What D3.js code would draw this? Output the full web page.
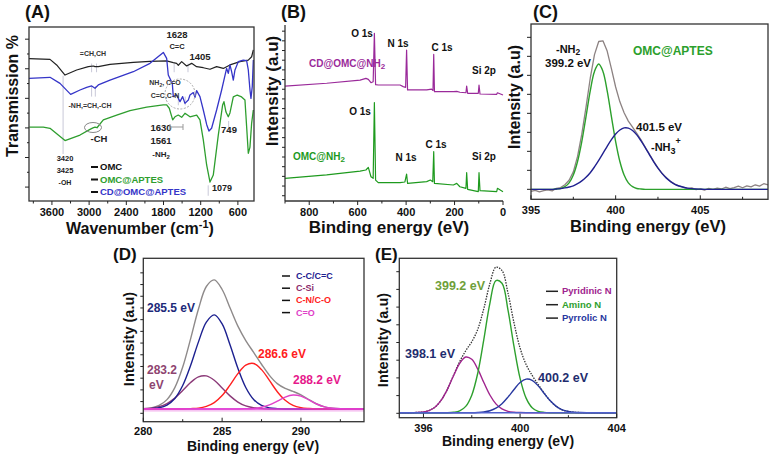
<!DOCTYPE html>
<html><head><meta charset="utf-8">
<script src="https://cdn.jsdelivr.net/npm/d3@7"></script>
<style>
body{margin:0;background:#fff;}
svg{display:block;font-family:"Liberation Sans",Arial,sans-serif;font-weight:bold;}
</style></head><body>
<svg id="c" width="780" height="457"></svg>
<script>
// ---------------- DATA ----------------
// (A) FTIR, [wavenumber cm-1, transmission a.u.]
const ftirTicks = [3600, 3000, 2400, 1800, 1200, 600];
const ftirMinorTicks = [3900, 3300, 2700, 2100, 1500, 900];
const omcFTIR = [[3970,81.8],[3631,81.4],[3524,78.2],[3389,72.4],[3201,75.3],[3013,77.2],[2932,77.6],[2905,77.2],[2852,77.2],[2663,78.5],[2287,79.7],[2018,80.3],[1749,80.5],[1642,79.5],[1588,79.1],[1561,78.0],[1507,80.1],[1427,77.6],[1346,79.1],[1266,77.2],[1158,76.6],[1050,75.7],[943,77.2],[835,76.2],[728,78.2],[567,80.1],[432,81.0],[378,82.9],[351,86.8]];
const cdOmcAptesFTIR = [[3970,70.5],[3631,71.1],[3470,67.6],[3298,61.3],[3147,63.8],[3040,65.3],[2959,66.1],[2905,64.8],[2852,66.7],[2663,69.5],[2287,74.3],[2018,79.1],[1803,85.4],[1749,82.0],[1723,72.4],[1658,67.6],[1642,60.0],[1588,60.9],[1534,57.1],[1491,60.0],[1454,56.1],[1400,58.0],[1373,60.9],[1319,62.3],[1292,59.6],[1266,63.4],[1212,60.0],[1158,52.3],[1104,44.0],[1067,40.2],[1024,41.8],[943,52.3],[862,63.8],[782,76.2],[755,73.4],[728,78.2],[701,74.3],[674,69.5],[647,75.3],[593,80.1],[513,81.0],[459,80.7],[432,75.3],[405,63.8],[389,59.0],[368,65.7],[351,81.0]];
const omcAptesFTIR = [[3965,42.4],[3739,42.4],[3631,41.8],[3389,34.7],[3147,37.9],[2986,41.2],[2938,42.0],[2905,42.4],[2873,42.1],[2771,46.6],[2555,49.4],[2341,52.0],[2071,53.9],[1804,55.2],[1749,55.2],[1707,53.3],[1652,46.6],[1615,48.4],[1562,49.4],[1507,48.1],[1454,50.4],[1373,48.4],[1265,49.4],[1212,46.6],[1158,35.1],[1104,20.7],[1050,10.9],[997,14.9],[916,37.9],[846,55.2],[825,57.1],[792,51.1],[755,48.4],[728,50.6],[674,59.8],[610,60.9],[540,59.8],[486,58.0],[432,27.4],[405,31.0],[378,44.8],[351,52.3]];

// (B) XPS survey, [binding energy eV, intensity a.u.]
const surveyTicks = [800, 600, 400, 200, 0];
const surveyMinorTicks = [900, 700, 500, 300, 100];
const cdOmcNH2Survey = [[900,65.3],[728,66.9],[590,68.7],[566,69.7],[556,69.1],[545,67.2],[536,67.8],[531,95.3],[526,66.1],[515,65.9],[425,65.9],[412,65.0],[402,64.6],[398,85.8],[394,63.1],[315,63.1],[295,63.6],[289,62.8],[286,83.3],[283,62.1],[205,62.1],[191,62.3],[178,61.8],[153,61.5],[150,65.3],[146,61.2],[102,61.2],[99,65.9],[95,60.8],[26,60.6],[23,61.5],[0,60.2]];
const omcNH2Survey = [[900,12.9],[728,14.8],[590,17.0],[566,17.6],[556,19.1],[545,13.8],[536,12.9],[531,55.9],[526,11.9],[515,10.4],[425,10.4],[405,10.8],[398,15.3],[394,10.0],[315,11.0],[300,11.9],[290,11.0],[286,28.0],[283,10.0],[205,9.1],[191,10.0],[178,8.1],[153,7.2],[150,16.1],[146,6.6],[102,5.3],[99,16.1],[95,5.9],[26,5.3],[23,7.2],[0,5.3]];

// (C) N1s OMC@APTES, grid 395..409 step 0.25
const cTicks = [395, 400, 405];
const cMinorTicks = [397.5, 402.5, 407.5];
const cBE = [395,395.25,395.5,395.75,396,396.25,396.5,396.75,397,397.25,397.5,397.75,398,398.25,398.5,398.75,399,399.25,399.5,399.75,400,400.25,400.5,400.75,401,401.25,401.5,401.75,402,402.25,402.5,402.75,403,403.25,403.5,403.75,404,404.25,404.5,404.75,405,405.25,405.5,405.75,406,406.25,406.5,406.75,407,407.25,407.5,407.75,408,408.25,408.5,408.75,409];
const cEnvelope = [-1.2,-0.6,-1.4,-0.8,-0.3,-0.9,0.6,1.0,2.6,5.2,10.0,18.8,31.5,47.0,63.5,77.0,84.5,84.9,79.0,69.0,58.5,50.0,43.8,39.0,35.5,32.0,28.3,24.0,20.0,16.0,12.3,9.0,6.6,4.4,3.0,1.8,1.3,0.4,0.8,-0.2,0.3,-0.4,0.5,0.0,0.7,0.2,1.2,0.4,1.0,1.8,0.9,2.0,1.4,2.6,1.8,3.2,2.5];
const cNH2 = [0,0,0,0,0,0,0.2,0.5,1.5,3.7,8.2,15.9,27.3,41.6,56.3,67.4,71.6,67.4,56.3,41.6,27.3,15.9,8.2,3.7,1.5,0.5,0.2,0,0,0,0,0,0,0,0,0,0,0,0,0,0,0,0,0,0,0,0,0,0,0,0,0,0,0,0,0,0];
const cNH3 = [0,0,0,0,0,0,0.2,0.4,0.8,1.3,2.0,3.2,4.8,6.9,9.5,12.8,16.5,20.5,24.6,28.4,31.6,33.9,35.1,35.0,33.6,31.1,27.7,23.8,19.7,15.7,12.1,9.0,6.4,4.4,2.9,1.9,1.2,0.7,0.4,0.2,0.1,0,0,0,0,0,0,0,0,0,0,0,0,0,0,0,0];

// (D) C1s, grid 280..294 step 0.5
const dTicks = [280, 285, 290];
const dMinorTicks = [282.5, 287.5, 292.5];
const dBE = [280,280.5,281,281.5,282,282.5,283,283.5,284,284.5,285,285.5,286,286.5,287,287.5,288,288.5,289,289.5,290,290.5,291,291.5,292,292.5,293,293.5,294];
const dEnvelope = [0.2,0.7,2.3,6.2,14.2,27.9,46.7,66.6,81.6,86.0,79.6,67.4,55.2,45.6,37.7,29.8,22.4,16.9,13.7,11.7,9.4,6.3,3.3,1.4,0.5,0.1,0,0,0];
const dCC = [0,0.2,0.8,2.6,7.0,15.6,28.9,44.7,57.9,62.7,56.7,42.8,27.1,14.3,6.3,2.3,0.7,0.2,0,0,0,0,0,0,0,0,0,0,0];
const dCSi = [0.2,0.5,1.5,3.6,7.2,12.3,17.6,21.4,22.0,19.1,14.0,8.7,4.6,2.0,0.8,0.2,0,0,0,0,0,0,0,0,0,0,0,0,0];
const dCN = [0,0,0,0,0,0,0.2,0.5,1.7,4.2,8.9,15.9,23.5,29.2,30.3,26.2,19.0,11.5,5.8,2.4,0.9,0.3,0,0,0,0,0,0,0];
const dCO = [0,0,0,0,0,0,0,0,0,0,0,0,0,0.1,0.3,1.1,2.7,5.2,7.9,9.3,8.5,6.0,3.3,1.4,0.5,0.1,0,0,0];
const dLegend = ["C-C/C=C", "C-Si", "C-N/C-O", "C=O"];

// (E) N1s CD@OMC@NH2, grid 395..404 step 0.25
const eTicks = [396, 400, 404];
const eMinorTicks = [398, 402];
const eBE = [395,395.25,395.5,395.75,396,396.25,396.5,396.75,397,397.25,397.5,397.75,398,398.25,398.5,398.75,399,399.25,399.5,399.75,400,400.25,400.5,400.75,401,401.25,401.5,401.75,402,402.25,402.5,402.75,403,403.25,403.5,403.75,404];
const eEnvelope = [0,0,0,0.2,0.5,1.6,4.0,8.7,15.9,25.1,34.1,41.3,47.3,55.7,69.5,86.0,97.0,94.8,79.7,59.8,43.1,32.1,24.9,18.8,13.0,7.9,4.2,1.9,0.8,0.3,0.1,0,0,0,0,0,0];
const ePyridinic = [0,0,0,0.2,0.5,1.6,4.0,8.7,15.9,24.8,32.9,37.1,35.6,29.0,20.1,11.8,5.9,2.5,0.9,0.3,0.1,0,0,0,0,0,0,0,0,0,0,0,0,0,0,0,0];
const eAmino = [0,0,0,0,0,0,0,0,0,0.3,1.2,4.2,11.7,26.5,48.9,72.9,88.1,86.3,68.4,44.0,22.9,9.7,3.3,0.9,0.2,0,0,0,0,0,0,0,0,0,0,0,0];
const ePyrrolic = [0,0,0,0,0,0,0,0,0,0,0,0,0,0.15,0.5,1.3,3.0,6.0,10.4,15.5,20.1,22.4,21.6,17.9,12.8,7.9,4.2,1.9,0.8,0.3,0.1,0,0,0,0,0,0];
const eLegend = ["Pyridinic N", "Amino N", "Pyrrolic N"];

// ---------------- DRAW ----------------
const svg = d3.select("#c");

function txt(g, x, y, s, size, color, anchor) {
  return g.append("text").attr("x", x).attr("y", y).attr("font-size", size)
    .attr("fill", color || "#111").attr("text-anchor", anchor || "start").text(s);
}
function rtxt(g, x, y, s, size) {
  return g.append("text").attr("transform", `translate(${x},${y}) rotate(-90)`)
    .attr("font-size", size).attr("text-anchor", "middle").attr("fill", "#111").text(s);
}
function xAxis(g, sc, y, major, minor, labY, dir) {
  major.forEach(v => {
    g.append("line").attr("x1", sc(v)).attr("x2", sc(v)).attr("y1", y).attr("y2", y + dir * 4).attr("stroke", "#222").attr("stroke-width", 1);
    txt(g, sc(v), labY, String(v), 11, "#111", "middle");
  });
  minor.forEach(v => {
    g.append("line").attr("x1", sc(v)).attr("x2", sc(v)).attr("y1", y).attr("y2", y + dir * 2.5).attr("stroke", "#222").attr("stroke-width", 1);
  });
}
function yTicks(g, sc, x, vals, len) {
  vals.forEach(v => g.append("line").attr("x1", x).attr("x2", x - len).attr("y1", sc(v)).attr("y2", sc(v)).attr("stroke", "#222").attr("stroke-width", 1));
}
function box(g, x0, x1, y0, y1) {
  g.append("rect").attr("x", x0).attr("y", y0).attr("width", x1 - x0).attr("height", y1 - y0)
    .attr("fill", "none").attr("stroke", "#333").attr("stroke-width", 1.3);
}
function path(g, data, x, y, color, w, curve, dash) {
  const p = g.append("path").datum(data).attr("fill", "none").attr("stroke", color)
    .attr("stroke-width", w).attr("stroke-linejoin", "round")
    .attr("d", d3.line().x(d => x(d[0])).y(d => y(d[1])).curve(curve || d3.curveLinear));
  if (dash) p.attr("stroke-dasharray", dash);
  return p;
}
const zip = (xs, ys) => xs.map((v, i) => [v, ys[i]]);

// ===== Panel A =====
{
  const g = svg.append("g");
  const x = d3.scaleLinear().domain([3970, 340]).range([29, 254]);
  const y = d3.scaleLinear().domain([0, 100]).range([201, 27]);
  const defs = svg.append("defs");
  defs.append("clipPath").attr("id", "clipA").append("rect").attr("x", 29).attr("y", 27).attr("width", 225).attr("height", 174);
  const pg = g.append("g").attr("clip-path", "url(#clipA)");
  const guide = (w, t0, t1) => pg.append("line").attr("x1", x(w)).attr("x2", x(w)).attr("y1", y(t0)).attr("y2", y(t1)).attr("stroke", "#c8c8d8").attr("stroke-width", 1);
  guide(3420, 72, 27); guide(1079, 9, 3);
  guide(2960, 79, 74); guide(2880, 79, 74); guide(2960, 66, 60); guide(2900, 66, 60);
  guide(1628, 79, 74); guide(1405, 79, 74); guide(1561, 60, 55); guide(1450, 60, 55);
  guide(749, 46, 40);
  path(pg, omcFTIR, x, y, "#222", 1.2);
  path(pg, cdOmcAptesFTIR, x, y, "#3535c8", 1.3);
  path(pg, omcAptesFTIR, x, y, "#2e9e2e", 1.3);
  box(g, 29, 254, 27, 201);
  xAxis(g, x, 201, ftirTicks, ftirMinorTicks, 216, 1);
  yTicks(g, y, 29, [8, 25, 42, 59, 76, 93], 4);
  yTicks(g, y, 29, [16.5, 33.5, 50.5, 67.5, 84.5], 2);
  txt(g, 25, 18, "(A)", 18);
  rtxt(g, 18, 96, "Transmission %", 16);
  const xl = txt(g, 140, 234, "Wavenumber (cm", 16, "#111", "middle");
  xl.append("tspan").attr("font-size", 11).attr("dy", -6).text("-1");
  xl.append("tspan").attr("dy", 6).text(")");
  // annotations
  txt(g, 93, 56, "=CH,CH", 7, "#333", "middle");
  txt(g, 90, 108, "-NH,=CH,-CH", 7, "#333", "middle");
  txt(g, 177, 38, "1628", 9.5, "#222", "middle");
  txt(g, 177, 49, "C=C", 7.5, "#222", "middle");
  txt(g, 200, 60, "1405", 9.5, "#222", "middle");
  const t1 = txt(g, 165, 85, "NH", 7, "#333", "middle");
  t1.append("tspan").attr("font-size", 5).attr("dy", 2).text("2");
  t1.append("tspan").attr("dy", -2).text(", C=O");
  txt(g, 165, 98, "C=C,C-N", 7, "#333", "middle");
  g.append("circle").attr("cx", 180).attr("cy", 94).attr("r", 15).attr("fill", "none").attr("stroke", "#aaa").attr("stroke-dasharray", "2,1.5");
  g.append("ellipse").attr("cx", 93).attr("cy", 127.5).attr("rx", 8.5).attr("ry", 5).attr("fill", "none").attr("stroke", "#888");
  txt(g, 99, 142, "-CH", 9.5, "#222", "middle");
  txt(g, 161, 131, "1630", 9.5, "#222", "middle");
  txt(g, 161, 144, "1561", 9.5, "#222", "middle");
  const t2 = txt(g, 161, 157, "-NH", 8, "#222", "middle");
  t2.append("tspan").attr("font-size", 6).attr("dy", 2).text("2");
  g.append("path").attr("d", "M170,124V130M170,127H183M183,124V130").attr("stroke", "#999").attr("fill", "none");
  txt(g, 229, 133, "749", 9.5, "#222", "middle");
  txt(g, 65, 161, "3420", 7.5, "#222", "middle");
  txt(g, 65, 173, "3425", 7.5, "#222", "middle");
  txt(g, 65, 185, "-OH", 7, "#222", "middle");
  txt(g, 222, 191, "1079", 9, "#222", "middle");
  const leg = [["OMC", "#111"], ["OMC@APTES", "#2e9e2e"], ["CD@OMC@APTES", "#3535c8"]];
  leg.forEach((d, i) => {
    const yy = 170 + i * 12.5;
    g.append("line").attr("x1", 91).attr("x2", 98).attr("y1", yy - 3).attr("y2", yy - 3).attr("stroke", "#111").attr("stroke-width", 2);
    txt(g, 100, yy, d[0], 9.5, d[1]);
  });
}

// ===== Panel B =====
{
  const g = svg.append("g");
  const x = d3.scaleLinear().domain([900, 0]).range([285, 503]);
  const y = d3.scaleLinear().domain([0, 100]).range([201, 25]);
  path(g, cdOmcNH2Survey, x, y, "#9a2a9a", 1.2);
  path(g, omcNH2Survey, x, y, "#1e9a1e", 1.2);
  g.append("line").attr("x1", 285).attr("x2", 285).attr("y1", 25).attr("y2", 201).attr("stroke", "#333").attr("stroke-width", 1.3);
  g.append("line").attr("x1", 285).attr("x2", 503).attr("y1", 201).attr("y2", 201).attr("stroke", "#333").attr("stroke-width", 1.3);
  xAxis(g, x, 201, surveyTicks, surveyMinorTicks, 216, 1);
  yTicks(g, y, 285, d3.range(3, 97, 5.5), 3);
  txt(g, 281, 18, "(B)", 18);
  rtxt(g, 278, 91, "Intensity (a.u)", 17);
  txt(g, 389, 233, "Binding energy (eV)", 17, "#111", "middle");
  txt(g, 362, 37, "O 1s", 10, "#111", "middle");
  txt(g, 398, 47, "N 1s", 10, "#111", "middle");
  txt(g, 442, 51, "C 1s", 10, "#111", "middle");
  txt(g, 484, 74, "Si 2p", 10, "#111", "middle");
  txt(g, 360, 115, "O 1s", 10, "#111", "middle");
  txt(g, 436, 148, "C 1s", 10, "#111", "middle");
  txt(g, 406, 161, "N 1s", 10, "#111", "middle");
  txt(g, 484, 160, "Si 2p", 10, "#111", "middle");
  const a = txt(g, 309, 67, "CD@OMC@NH", 10, "#9a2a9a");
  a.append("tspan").attr("font-size", 8).attr("dy", 2).text("2");
  const b = txt(g, 293, 160, "OMC@NH", 10, "#1e9a1e");
  b.append("tspan").attr("font-size", 8).attr("dy", 2).text("2");
}

// ===== Panel C =====
{
  const g = svg.append("g");
  const x = d3.scaleLinear().domain([395, 409]).range([531, 768]);
  const y = d3.scaleLinear().domain([-5.7, 94.5]).range([199.3, 24]);
  const cr = d3.curveCatmullRom.alpha(0.5);
  path(g, zip(cBE, cEnvelope), x, y, "#8c8282", 1.3);
  path(g, zip(cBE, cNH2), x, y, "#2ca02c", 1.4, cr);
  path(g, zip(cBE, cNH3), x, y, "#202090", 1.4, cr);
  box(g, 531, 768, 24, 199.3);
  xAxis(g, x, 199.3, cTicks, cMinorTicks, 214, -1);
  yTicks(g, y, 531, d3.range(0, 90, 10.86), 4);
  txt(g, 533, 18, "(C)", 18);
  rtxt(g, 520, 97, "Intensity (a.u)", 16);
  txt(g, 648, 232, "Binding energy (eV)", 16.5, "#111", "middle");
  const n = txt(g, 556, 53, "-NH", 11);
  n.append("tspan").attr("font-size", 8.5).attr("dy", 2).text("2");
  txt(g, 545, 67, "399.2 eV", 11.5);
  txt(g, 633, 55, "OMC@APTES", 12, "#2ca02c");
  txt(g, 636, 131, "401.5 eV", 11.5);
  const m = txt(g, 651, 151, "-NH", 11);
  m.append("tspan").attr("font-size", 9).attr("dy", 3).text("3");
  m.append("tspan").attr("font-size", 9).attr("dy", -10).text("+");
}

// ===== Panel D =====
{
  const g = svg.append("g");
  const x = d3.scaleLinear().domain([280, 294]).range([143.3, 364]);
  const y = d3.scaleLinear().domain([-8.5, 100.4]).range([421.7, 258.3]);
  const cr = d3.curveCatmullRom.alpha(0.5);
  path(g, zip(dBE, dEnvelope), x, y, "#8e8a8a", 1.4, cr);
  path(g, zip(dBE, dCSi), x, y, "#8b3a78", 1.4, cr);
  path(g, zip(dBE, dCC), x, y, "#1c2090", 1.4, cr);
  path(g, zip(dBE, dCN), x, y, "#ff2020", 1.4, cr);
  path(g, zip(dBE, dCO), x, y, "#e040c8", 1.4, cr);
  g.append("line").attr("x1", x(280)).attr("x2", x(294)).attr("y1", y(-1.3)).attr("y2", y(-1.3)).attr("stroke", "#f0a0e8").attr("stroke-width", 1);
  g.append("line").attr("x1", x(280)).attr("x2", x(294)).attr("y1", y(0)).attr("y2", y(0)).attr("stroke", "#e040d8").attr("stroke-width", 1.4);
  box(g, 143.3, 364, 258.3, 421.7);
  xAxis(g, x, 421.7, dTicks, dMinorTicks, 434.5, -1);
  yTicks(g, y, 143.3, d3.range(-2.9, 98, 7.8), 3);
  txt(g, 113, 260, "(D)", 17);
  rtxt(g, 134, 339, "Intensity (a.u)", 14.5);
  txt(g, 253, 450.5, "Binding energy (eV)", 14, "#111", "middle");
  txt(g, 147, 312, "285.5 eV", 12, "#1c2a7a");
  txt(g, 147, 374, "283.2", 12, "#8e4470");
  txt(g, 149, 389, "eV", 12, "#8e4470");
  txt(g, 258, 358, "286.6 eV", 12, "#ff2020");
  txt(g, 293, 384, "288.2 eV", 12, "#e6198c");
  const lc = ["#1c2090", "#8b2a6a", "#ff2020", "#e040c8"];
  dLegend.forEach((s, i) => {
    const yy = 279 + i * 12.2;
    g.append("line").attr("x1", 282).attr("x2", 290).attr("y1", yy - 3).attr("y2", yy - 3).attr("stroke", "#111").attr("stroke-width", 1.5);
    txt(g, 296, yy, s, 9, lc[i]);
  });
}

// ===== Panel E =====
{
  const g = svg.append("g");
  const x = d3.scaleLinear().domain([395, 404]).range([399.3, 616.7]);
  const y = d3.scaleLinear().domain([-3.33, 102.93]).range([417.7, 258.3]);
  const cr = d3.curveCatmullRom.alpha(0.5);
  path(g, zip(eBE, eEnvelope), x, y, "#333", 1.3, cr, "1.5,1.2");
  path(g, zip(eBE, ePyridinic), x, y, "#a0248e", 1.4, cr);
  path(g, zip(eBE, eAmino), x, y, "#2ea02e", 1.4, cr);
  path(g, zip(eBE, ePyrrolic), x, y, "#2838a0", 1.4, cr);
  g.append("line").attr("x1", x(395)).attr("x2", x(404)).attr("y1", y(0)).attr("y2", y(0)).attr("stroke", "#5060cc").attr("stroke-width", 1.5);
  box(g, 399.3, 616.7, 258.3, 417.7);
  xAxis(g, x, 417.7, eTicks, eMinorTicks, 431.5, -1);
  yTicks(g, y, 399.3, d3.range(-0.4, 100, 11.8), 3);
  txt(g, 375, 260, "(E)", 17);
  rtxt(g, 388, 340, "Intensity (a.u)", 14.5);
  txt(g, 508, 446, "Binding energy (eV)", 14, "#111", "middle");
  txt(g, 435, 290, "399.2 eV", 12.5, "#6f9f3a");
  txt(g, 405, 358, "398.1 eV", 12.5, "#1f2d6e");
  txt(g, 538, 382, "400.2 eV", 12.5, "#1f2d6e");
  const lc = ["#a0248e", "#2ea02e", "#2838a0"];
  eLegend.forEach((s, i) => {
    const yy = 294.3 + i * 13.4;
    g.append("line").attr("x1", 546).attr("x2", 558).attr("y1", yy - 3).attr("y2", yy - 3).attr("stroke", "#222").attr("stroke-width", 1.5);
    txt(g, 562, yy, s, 9.5, lc[i]);
  });
}
</script>
</body></html>
